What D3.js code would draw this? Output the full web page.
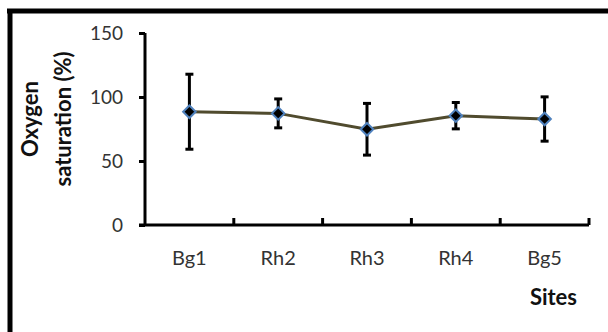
<!DOCTYPE html>
<html><head><meta charset="utf-8">
<script src="https://cdn.jsdelivr.net/npm/d3@7"></script>
<style>body{margin:0;background:#fff}svg{display:block}</style>
</head><body><svg id="c" width="608" height="332"></svg>
<script>
const sites = ["Bg1","Rh2","Rh3","Rh4","Bg5"];
const means = [88.5, 87.2, 74.8, 85.4, 82.8];
const errs  = [29.3, 11.3, 20.2, 10.3, 17.3];
const yTicks = [0, 50, 100, 150];

const svg = d3.select("#c");
const m = {left:145, right:589, top:33, bottom:225};
const x = d3.scaleBand().domain(sites).range([m.left, m.right]).paddingInner(0).paddingOuter(0);
const y = d3.scaleLinear().domain([0,150]).range([m.bottom, m.top]);
const cx = d => x(d) + x.bandwidth()/2;
const font = "Lato, 'Open Sans', sans-serif";

// frame (top and left)
svg.append("line").attr("x1",7).attr("x2",608).attr("y1",11).attr("y2",11).attr("stroke","#000").attr("stroke-width",5);
svg.append("line").attr("x1",10).attr("x2",10).attr("y1",9).attr("y2",332).attr("stroke","#000").attr("stroke-width",5);

// y axis
const ya = svg.append("g").attr("transform",`translate(${m.left},0)`)
  .call(d3.axisLeft(y).tickValues(yTicks).tickSize(6).tickPadding(16).tickFormat(d3.format("d")));
ya.select(".domain").attr("stroke","#000").attr("stroke-width",3).attr("d",`M0,${y(150)}V${y(0)}`);
ya.selectAll(".tick line").attr("stroke","#000").attr("stroke-width",3);
ya.selectAll("text").attr("font-family",font).attr("font-size",19).attr("fill","#333");

// x axis
const xa = svg.append("g").attr("transform",`translate(0,${m.bottom})`)
  .call(d3.axisBottom(x).tickSize(0).tickPadding(26));
xa.select(".domain").remove();
xa.selectAll("text").attr("font-family",font).attr("font-size",20).attr("fill","#333");
svg.append("line").attr("x1",m.left-6).attr("x2",m.right).attr("y1",y(0)).attr("y2",y(0)).attr("stroke","#000").attr("stroke-width",3);
svg.append("g").selectAll("line").data(sites).join("line")
  .attr("x1",d=>x(d)+x.bandwidth()).attr("x2",d=>x(d)+x.bandwidth())
  .attr("y1",y(0)).attr("y2",y(0)-7).attr("stroke","#000").attr("stroke-width",3);

// axis titles
const yl = svg.append("text").attr("transform","translate(38,119) rotate(-90)")
  .attr("text-anchor","middle").attr("font-family",font).attr("font-weight","bold").attr("font-size",22).attr("fill","#111");
yl.append("tspan").attr("x",0).attr("dy",0).text("Oxygen");
yl.append("tspan").attr("x",0).attr("dy",33).text("saturation (%)");
svg.append("text").attr("x",577).attr("y",305).attr("text-anchor","end")
  .attr("font-family",font).attr("font-weight","bold").attr("font-size",22).attr("fill","#111").text("Sites");

// line
const data = sites.map((s,i)=>({s, v:means[i], e:errs[i]}));
svg.append("path").datum(data)
  .attr("d", d3.line().x(d=>cx(d.s)).y(d=>y(d.v)))
  .attr("fill","none").attr("stroke","#504b2e").attr("stroke-width",3);

// error bars
const eb = svg.append("g").selectAll("g").data(data).join("g");
eb.append("line").attr("x1",d=>cx(d.s)).attr("x2",d=>cx(d.s))
  .attr("y1",d=>y(d.v+d.e)).attr("y2",d=>y(d.v-d.e)).attr("stroke","#000").attr("stroke-width",3);
eb.append("line").attr("x1",d=>cx(d.s)-4).attr("x2",d=>cx(d.s)+4)
  .attr("y1",d=>y(d.v+d.e)).attr("y2",d=>y(d.v+d.e)).attr("stroke","#000").attr("stroke-width",3);
eb.append("line").attr("x1",d=>cx(d.s)-4).attr("x2",d=>cx(d.s)+4)
  .attr("y1",d=>y(d.v-d.e)).attr("y2",d=>y(d.v-d.e)).attr("stroke","#000").attr("stroke-width",3);

// markers
svg.append("g").selectAll("path").data(data).join("path")
  .attr("transform",d=>`translate(${cx(d.s)},${y(d.v)})`)
  .attr("d", d3.symbol(d3.symbolDiamond2, 100))
  .attr("fill","#000").attr("stroke","#4f81bd").attr("stroke-width",2);
</script></body></html>
